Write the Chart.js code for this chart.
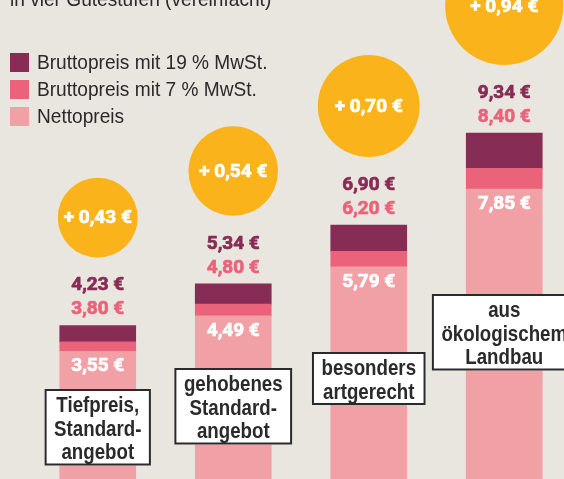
<!DOCTYPE html>
<html lang="de">
<head>
<meta charset="utf-8">
<script src="https://cdn.jsdelivr.net/npm/chart.js@4"></script>
<style>
  html, body { margin: 0; padding: 0; background: #e9e5df; }
  #wrap { width: 564px; height: 479px; overflow: hidden; position: relative; }
</style>
</head>
<body>
<div id="wrap"><canvas id="preise" width="590" height="485"></canvas></div>
<script>
// Eierpreise in vier Gütestufen
const categories = [
  ['Tiefpreis,', 'Standard-', 'angebot'],
  ['gehobenes', 'Standard-', 'angebot'],
  ['besonders', 'artgerecht'],
  ['aus', 'ökologischem', 'Landbau']
];
const netto = [3.55, 4.49, 5.79, 7.85];
const brutto7 = [3.80, 4.80, 6.20, 8.40];
const brutto19 = [4.23, 5.34, 6.90, 9.34];
const seriesLabels = ['Bruttopreis mit 19 % MwSt.', 'Bruttopreis mit 7 % MwSt.', 'Nettopreis'];
const subtitle = 'in vier Gütestufen (vereinfacht)';

// styles
const DARK = '#872c54';
const PINK = '#ea637b';
const LIGHT = '#f1a0a5';
const ORANGE = '#fbb31b';
const TEXT = '#2a2a2a';
const boxTop = [389, 368, 352, 294];

const euro = v => v.toFixed(2).replace('.', ',') + ' €';

// no narrow font installed, so squeeze Liberation Sans horizontally
function squeezed(ctx, text, x, y, sx) {
  ctx.save();
  ctx.translate(x, y);
  ctx.scale(sx, 1);
  ctx.fillText(text, 0, 0);
  ctx.restore();
}

// heavy value labels
function heavy(ctx, text, x, y, color) {
  ctx.fillStyle = color;
  ctx.strokeStyle = color;
  ctx.lineWidth = 0.7;
  ctx.fillText(text, x, y);
  ctx.strokeText(text, x, y);
}

const overlay = {
  id: 'overlay',
  afterDatasetsDraw(chart) {
    const ctx = chart.ctx;
    const y = chart.scales.y;
    const bars = chart.getDatasetMeta(0).data;
    ctx.save();

    // subtitle, cut off at the top
    ctx.fillStyle = TEXT;
    ctx.font = '21px "Liberation Sans"';
    ctx.textAlign = 'left';
    ctx.textBaseline = 'alphabetic';
    squeezed(ctx, subtitle, 10, 6, 0.91);

    // legend
    const legendColors = [DARK, PINK, LIGHT];
    seriesLabels.forEach((label, k) => {
      const top = 53 + k * 27;
      ctx.fillStyle = legendColors[k];
      ctx.fillRect(10, top, 19, 19);
      ctx.fillStyle = TEXT;
      ctx.textBaseline = 'middle';
      squeezed(ctx, label, 37, top + 10, 0.91);
    });

    bars.forEach((bar, i) => {
      const x = bar.x;
      const top = y.getPixelForValue(brutto19[i]);
      const netTop = y.getPixelForValue(netto[i]);
      ctx.textAlign = 'center';
      ctx.textBaseline = 'middle';
      ctx.font = 'bold 19px Roboto';

      heavy(ctx, euro(brutto19[i]), x, top - 40, DARK);
      heavy(ctx, euro(brutto7[i]), x, top - 16, PINK);
      heavy(ctx, euro(netto[i]), x, netTop + 15, '#ffffff');

      // circle, area proportional to the VAT difference
      const diff = brutto19[i] - brutto7[i];
      const r = Math.sqrt(diff * 3710);
      const cy = top - 68 - r;
      ctx.fillStyle = ORANGE;
      ctx.beginPath();
      ctx.arc(x, cy, r, 0, Math.PI * 2);
      ctx.fill();
      heavy(ctx, '+ ' + euro(diff), x, cy + 1, '#ffffff');

      // category box
      const lines = categories[i];
      ctx.font = 'bold 22px "Liberation Sans"';
      const sx = 0.85;
      const w = Math.max(...lines.map(l => ctx.measureText(l).width)) * sx + 19;
      const h = lines.length * 23.5 + 6;
      const bx = x - w / 2;
      const by = boxTop[i];
      ctx.fillStyle = '#ffffff';
      ctx.fillRect(bx, by, w, h);
      ctx.strokeStyle = TEXT;
      ctx.lineWidth = 2;
      ctx.strokeRect(bx + 1, by + 1, w - 2, h - 2);
      ctx.fillStyle = TEXT;
      lines.forEach((l, j) => squeezed(ctx, l, x, by + 17 + j * 23.5, sx));
    });
    ctx.restore();
  }
};

new Chart(document.getElementById('preise'), {
  type: 'bar',
  data: {
    labels: categories.map(c => c.join(' ')),
    datasets: [
      { label: seriesLabels[2], backgroundColor: LIGHT, data: netto },
      { label: seriesLabels[1], backgroundColor: PINK, data: brutto7.map((v, i) => v - netto[i]) },
      { label: seriesLabels[0], backgroundColor: DARK, data: brutto19.map((v, i) => v - brutto7[i]) }
    ]
  },
  options: {
    responsive: false,
    animation: false,
    layout: { padding: { left: 30, right: 18, top: 0, bottom: 0 } },
    datasets: { bar: { barThickness: 76, borderWidth: 0 } },
    plugins: { legend: { display: false }, tooltip: { enabled: false } },
    scales: {
      x: { display: false, stacked: true },
      y: { display: false, stacked: true, min: 0, max: 12.87 }
    }
  },
  plugins: [overlay]
});
</script>
</body>
</html>
